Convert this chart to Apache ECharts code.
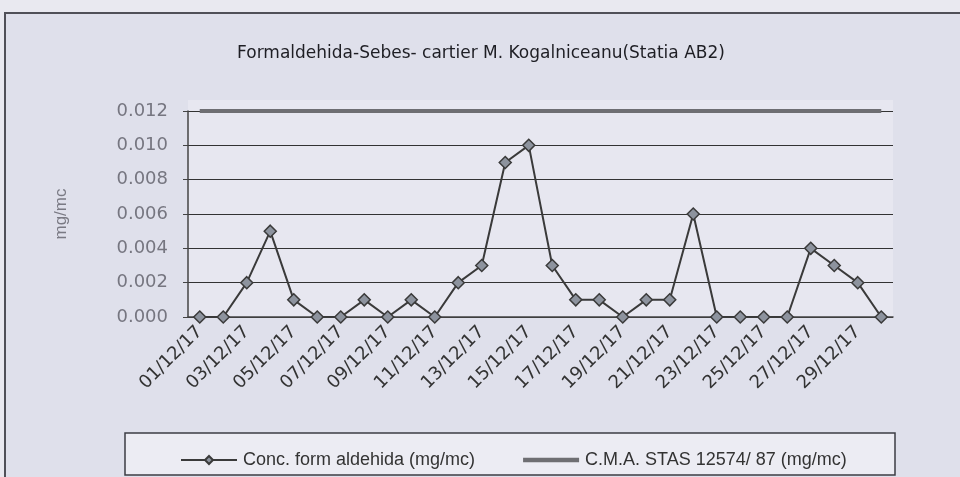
<!DOCTYPE html>
<html><head><meta charset="utf-8">
<script src="https://cdn.jsdelivr.net/npm/echarts@6/dist/echarts.min.js"></script>
<style>html,body{margin:0;padding:0;background:#e4e4ee}#c{width:960px;height:477px}</style>
</head><body><div id="c"></div>
<script>
const categories = ['01/12/17','02/12/17','03/12/17','04/12/17','05/12/17','06/12/17','07/12/17','08/12/17','09/12/17','10/12/17','11/12/17','12/12/17','13/12/17','14/12/17','15/12/17','16/12/17','17/12/17','18/12/17','19/12/17','20/12/17','21/12/17','22/12/17','23/12/17','24/12/17','25/12/17','26/12/17','27/12/17','28/12/17','29/12/17','30/12/17'];
const concValues = [0,0,0.002,0.005,0.001,0,0,0.001,0,0.001,0,0.002,0.003,0.009,0.010,0.003,0.001,0.001,0,0.001,0.001,0.006,0,0,0,0,0.004,0.003,0.002,0];
const cmaValues = [0.012,0.012,0.012,0.012,0.012,0.012,0.012,0.012,0.012,0.012,0.012,0.012,0.012,0.012,0.012,0.012,0.012,0.012,0.012,0.012,0.012,0.012,0.012,0.012,0.012,0.012,0.012,0.012,0.012,0.012];
const yTicks = { min: 0, max: 0.012, interval: 0.002 };
const titleText = 'Formaldehida-Sebes- cartier M. Kogalniceanu(Statia AB2)';
const yName = 'mg/mc';
const seriesNames = ['Conc. form aldehida (mg/mc)', 'C.M.A. STAS 12574/ 87 (mg/mc)'];

const chart = echarts.init(document.getElementById('c'));
chart.setOption({
  backgroundColor: '#e9e9f0',
  animation: false,
  textStyle: { fontFamily: 'Liberation Sans, Arial, sans-serif' },
  graphic: [
    { type: 'rect', z: -10, shape: { x: 5, y: 13, width: 970, height: 480 }, style: { fill: '#dfe0eb', stroke: '#505058', lineWidth: 2 } },
    { type: 'rect', z: -9, shape: { x: 188, y: 100, width: 705, height: 217 }, style: { fill: '#e7e7f0' } },
    { type: 'rect', z: -5, shape: { x: 125, y: 433, width: 770, height: 42 }, style: { fill: '#ececf3', stroke: '#3c3c44', lineWidth: 1.5 } }
  ],
  title: {
    text: titleText, left: 476, top: 40, textAlign: 'center',
    textStyle: { fontSize: 17, fontWeight: 'normal', color: '#1e1e24', fontFamily: 'DejaVu Sans, sans-serif' }
  },
  legend: {
    left: 175, top: 446, itemGap: 48, itemWidth: 56, itemHeight: 10,
    textStyle: { fontSize: 18, color: '#333', padding: [0, 0, 0, 1] },
    data: [
      { name: seriesNames[0] },
      { name: seriesNames[1], icon: 'path://M0,0H60V5H0Z' }
    ]
  },
  grid: { left: 188, top: 111, width: 705, height: 206, containLabel: false },
  xAxis: {
    type: 'category', data: categories, boundaryGap: true,
    axisLine: { lineStyle: { color: '#444', width: 1.5 } },
    axisTick: { interval: 1, length: 5, lineStyle: { color: '#444' } },
    axisLabel: { interval: 1, rotate: 45, fontSize: 18, color: '#333', margin: 12, fontFamily: 'DejaVu Sans, sans-serif' },
    splitLine: { show: false }
  },
  yAxis: {
    type: 'value', min: yTicks.min, max: yTicks.max, interval: yTicks.interval,
    name: yName, nameLocation: 'middle', nameGap: 118, nameRotate: 90,
    nameTextStyle: { fontSize: 17, color: '#7a7a84' },
    axisLine: { show: true, lineStyle: { color: '#444', width: 1.5 } },
    axisTick: { show: true, length: 5, lineStyle: { color: '#444' } },
    axisLabel: { formatter: v => v.toFixed(3), fontSize: 18, color: '#767680', margin: 20, fontFamily: 'DejaVu Sans, sans-serif' },
    splitLine: { lineStyle: { color: '#333', width: 1.2 } }
  },
  series: [
    {
      name: seriesNames[0], type: 'line', data: concValues,
      symbol: 'diamond', symbolSize: 12,
      lineStyle: { color: '#3a3a3a', width: 2 },
      itemStyle: { color: '#8d939e', borderColor: '#3a3a3a', borderWidth: 1.5 },
      z: 3
    },
    {
      name: seriesNames[1], type: 'line', data: cmaValues,
      symbol: 'none',
      lineStyle: { color: '#6e6e72', width: 4 },
      itemStyle: { color: '#6e6e72' },
      z: 2
    }
  ]
});
</script></body></html>
